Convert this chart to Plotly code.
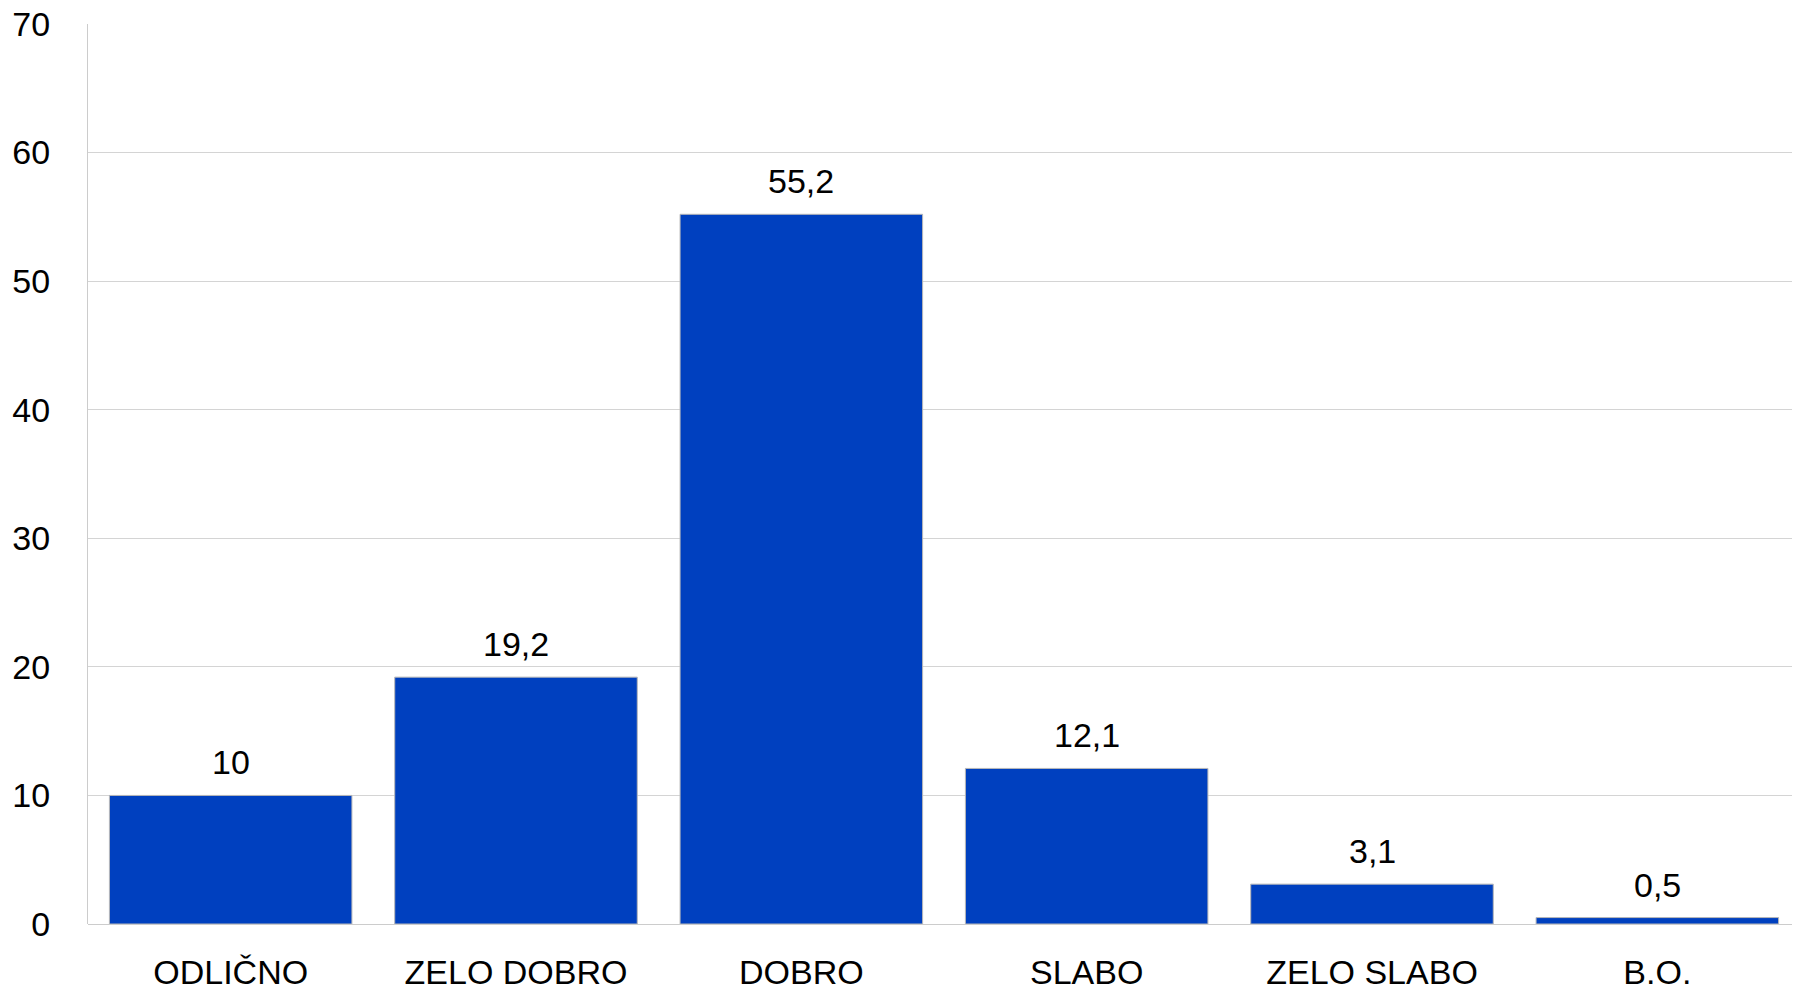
import plotly.graph_objects as go

categories = ["ODLIČNO", "ZELO DOBRO", "DOBRO", "SLABO", "ZELO SLABO", "B.O."]
values = [10, 19.2, 55.2, 12.1, 3.1, 0.5]
y_ticks = [0, 10, 20, 30, 40, 50, 60, 70]

labels = [("%g" % v).replace(".", ",") for v in values]

FONT = "Liberation Sans, Arial"
fig = go.Figure()
fig.add_trace(go.Bar(
    x=categories, y=values,
    marker=dict(color="#0040BF", line=dict(color="#b8b8b8", width=1)),
    hoverinfo="skip",
))
for c, v, t in zip(categories, values, labels):
    fig.add_annotation(x=c, y=v, text=t, showarrow=False, yanchor="bottom",
                       yshift=12, font=dict(family=FONT, size=34, color="#000"))

fig.update_layout(
    width=1792, height=979,
    margin=dict(l=80, r=0, t=16, b=63),
    plot_bgcolor="white", paper_bgcolor="white",
    bargap=0.15, showlegend=False,
    font=dict(family=FONT, size=34, color="#000"),
)
fig.update_xaxes(showgrid=False, showline=False, ticks="", ticklabelstandoff=25,
                 tickfont=dict(size=34), automargin=False, ticklabeloverflow="allow")
fig.update_yaxes(range=[0, 70], tickvals=y_ticks, showgrid=True, gridcolor="#d4d4d4",
                 gridwidth=1, showline=True, linecolor="#cccccc", linewidth=1,
                 zeroline=True, zerolinecolor="#cccccc", zerolinewidth=1,
                 ticks="", ticklabelstandoff=30, tickfont=dict(size=34), automargin=False,
                 ticklabeloverflow="allow")

fig.write_html("out.html")
